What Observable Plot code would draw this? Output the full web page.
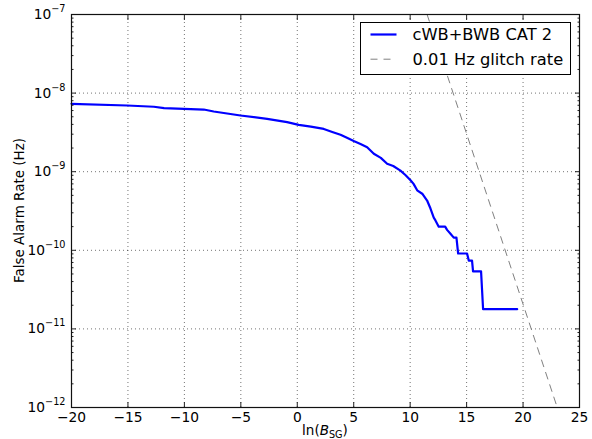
<!DOCTYPE html>
<html><head><meta charset="utf-8">
<script src="https://cdn.jsdelivr.net/npm/d3@7"></script>
<script src="https://cdn.jsdelivr.net/npm/@observablehq/plot@0.6"></script>
<style>
html,body{margin:0;padding:0;background:#fff;}
#chart{position:relative;width:592px;height:439px;}
svg{overflow:visible}
</style></head><body><div id="chart"></div>
<script>
// cWB+BWB CAT 2 false alarm rate curve
const curveX = [-20, -15.07, -12.7, -11.8, -8.28, -7.4, -5.03, -2.67, -0.9, 0.13, 1.2, 2.35, 3.1, 3.83, 4.4, 5.0, 5.6, 6.19, 6.78, 7.4, 7.96, 8.5, 9.14, 9.6, 10.03, 10.3, 10.62, 11.1, 11.5, 11.8, 12.09, 12.24, 12.53, 13.1, 13.27, 13.57, 13.86, 14.1, 14.25, 15.04, 15.19, 15.48, 15.57, 16.28, 16.46, 19.48];
const curveY = [7.31e-9, 6.95e-9, 6.70e-9, 6.43e-9, 6.18e-9, 5.83e-9, 5.19e-9, 4.71e-9, 4.27e-9, 3.95e-9, 3.75e-9, 3.5e-9, 3.2e-9, 2.95e-9, 2.7e-9, 2.45e-9, 2.25e-9, 2.05e-9, 1.69e-9, 1.5e-9, 1.26e-9, 1.18e-9, 1.03e-9, 9.0e-10, 7.8e-10, 7.0e-10, 5.8e-10, 5.2e-10, 4.3e-10, 3.4e-10, 2.6e-10, 2.4e-10, 2.0e-10, 2.0e-10, 1.82e-10, 1.62e-10, 1.45e-10, 1.45e-10, 9.1e-11, 9.1e-11, 7.4e-11, 7.4e-11, 5.4e-11, 5.4e-11, 1.78e-11, 1.78e-11];
// 0.01 Hz glitch rate line endpoints
const glitchX = [11.5, 23.03];
const glitchY = [1e-7, 1e-12];
const seriesNames = ["cWB+BWB CAT 2", "0.01 Hz glitch rate"];
const seriesColors = ["#0000ff", "#808080"];
const xTicks = [-20, -15, -10, -5, 0, 5, 10, 15, 20, 25];
const yExp = [-12, -11, -10, -9, -8, -7];
const yTicks = yExp.map(e => Math.pow(10, e));
const yMinor = [];
for (const e of yExp.slice(0, -1)) for (let m = 2; m <= 9; m++) yMinor.push(m * Math.pow(10, e));

const curve = curveX.map((x, i) => ({x, y: curveY[i]}));
const glitch = glitchX.map((x, i) => ({x, y: glitchY[i]}));

const font = "DejaVu Sans, sans-serif";
const fmtX = d => d < 0 ? "\u2212" + (-d) : String(d);

const chart = Plot.plot({
  width: 592, height: 439,
  marginLeft: 71, marginRight: 13, marginTop: 14, marginBottom: 32,
  style: {fontFamily: font, fontSize: "13.8px", color: "black", background: "white", overflow: "visible"},
  x: {domain: [-20, 25], label: null},
  y: {type: "log", domain: [1e-12, 1e-7], label: null},
  marks: [
    Plot.gridX(xTicks.slice(1, -1), {stroke: "black", strokeOpacity: 0.55, strokeDasharray: "1,3"}),
    Plot.gridY(yTicks.slice(1, -1), {stroke: "black", strokeOpacity: 0.55, strokeDasharray: "1,3"}),
    Plot.line(glitch, {x: "x", y: "y", stroke: seriesColors[1], strokeWidth: 1, strokeDasharray: "7,6", clip: true}),
    Plot.line(curve, {x: "x", y: "y", stroke: seriesColors[0], strokeWidth: 2.2, curve: "linear"}),
    // ticks inward
    Plot.axisX(xTicks, {anchor: "bottom", tickSize: -5, fill: "none", label: null, stroke: "#222"}),
    Plot.axisX(xTicks, {anchor: "top", tickSize: -5, fill: "none", label: null, stroke: "#222"}),
    Plot.axisY(yTicks, {anchor: "left", tickSize: -5, fill: "none", label: null, stroke: "#222"}),
    Plot.axisY(yTicks, {anchor: "right", tickSize: -5, fill: "none", label: null, stroke: "#222"}),
    Plot.axisY(yMinor, {anchor: "left", tickSize: -2.5, fill: "none", label: null, stroke: "#222"}),
    Plot.axisY(yMinor, {anchor: "right", tickSize: -2.5, fill: "none", label: null, stroke: "#222"}),
    // labels
    Plot.axisX(xTicks, {anchor: "bottom", tickSize: 0, tickPadding: 5, tickFormat: fmtX, label: null, fill: "black"}),
    Plot.axisY(yTicks, {anchor: "left", tickSize: 0, tickPadding: 6, tickFormat: d => "10|\u2212" + Math.round(-Math.log10(d)), label: null, fill: "black"}),
    Plot.frame({stroke: "#111", strokeWidth: 1.2})
  ]
});
document.getElementById("chart").appendChild(chart);

const svg = d3.select(chart);
// superscripts on y tick labels
svg.selectAll("text").each(function() {
  const t = d3.select(this);
  const s = this.textContent;
  if (s.includes("|")) {
    const [base, exp] = s.split("|");
    t.text(null);
    t.append("tspan").text(base);
    t.append("tspan").attr("dy", "-7").attr("font-size", "9.7px").text(exp);
  }
});
// y label
svg.append("text")
  .attr("transform", "translate(19.5,210.5) rotate(-90)")
  .attr("text-anchor", "middle").attr("dy", "0.35em")
  .attr("font-family", font).attr("font-size", "13.5px").attr("fill", "black")
  .text("False Alarm Rate (Hz)");
// x label
const xl = svg.append("text")
  .attr("x", 325).attr("y", 435)
  .attr("text-anchor", "middle")
  .attr("font-family", font).attr("font-size", "13.5px").attr("fill", "black");
xl.append("tspan").text("ln(");
xl.append("tspan").attr("font-style", "italic").text("B");
xl.append("tspan").attr("font-size", "9.7px").attr("dy", "2.5").text("SG");
xl.append("tspan").attr("dy", "-2.5").text(")");
// legend
const lg = svg.append("g").attr("transform", "translate(360.5,22.5)");
lg.append("rect").attr("width", 210).attr("height", 52).attr("fill", "white").attr("stroke", "black").attr("stroke-width", 1);
seriesNames.forEach((name, i) => {
  const cy = 12 + i * 24.7;
  lg.append("line").attr("x1", 10).attr("x2", 36).attr("y1", cy).attr("y2", cy)
    .attr("stroke", seriesColors[i]).attr("stroke-width", i === 0 ? 2.2 : 1)
    .attr("stroke-dasharray", i === 0 ? null : "7,6");
  lg.append("text").attr("x", 52).attr("y", cy).attr("dy", "0.36em")
    .attr("text-anchor", "start")
    .attr("font-family", font).attr("font-size", "16.3px").attr("fill", "black").text(name);
});
</script></body></html>
